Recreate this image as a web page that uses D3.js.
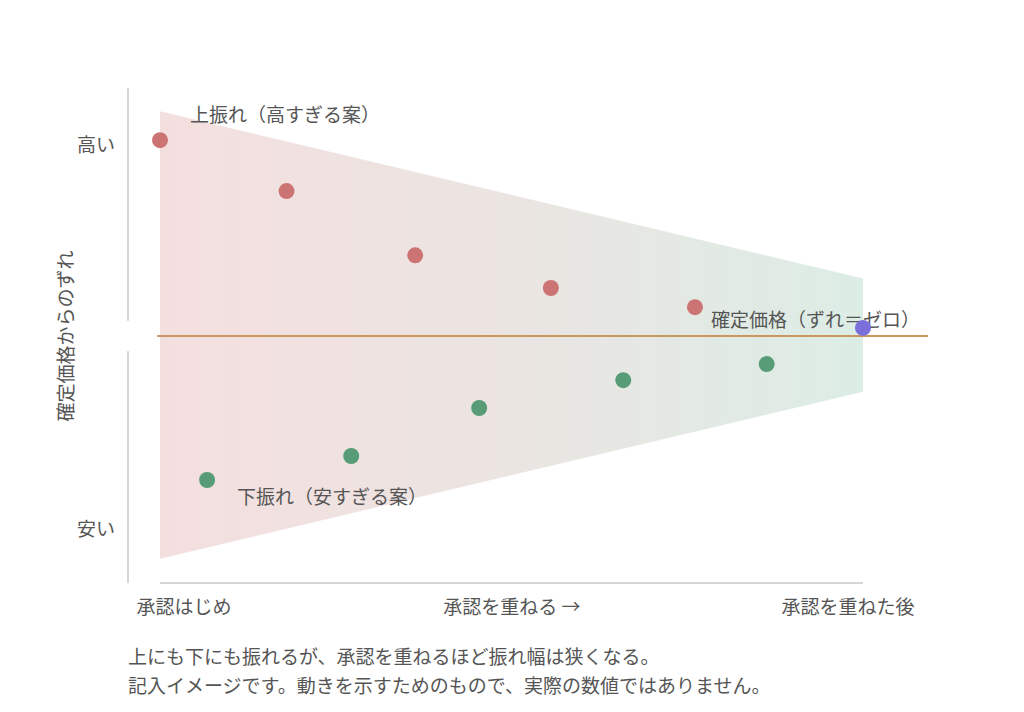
<!DOCTYPE html>
<meta charset="utf-8">
<style>
    body { margin: 0; background: #fff; }
    svg { font-family: "Noto Sans CJK JP", "Noto Sans", sans-serif; }
    .lbl { fill: #555; font-size: 19px; }
    .axis-line { stroke: #d6d6d6; stroke-width: 2px; }
</style>
<body>
<script src="https://cdn.jsdelivr.net/npm/d3@7"></script>
<script>

    var width = 1024,
        height = 712;

    // 承認の段階（0 = はじめ, 100 = 後）とずれ（+ 高い / - 安い）
    var highStages = [0, 18, 36.3, 55.6, 76.1],
        highValues = [102, 75.5, 42, 25, 15];
    var lowStages = [6.7, 27.2, 45.4, 65.9, 86.3],
        lowValues = [-75, -62.5, -37.5, -23, -14.6];
    var finalStage = [100],
        finalValue = [4.2];

    // 振れ幅の帯（左端と右端）
    var bandStages = [0, 100],
        bandTop = [117, 30],
        bandBottom = [-116, -29];

    var xTickLabels = ["承認はじめ", "承認を重ねる →", "承認を重ねた後"],
        yTickLabels = ["高い", "安い"],
        yTickValues = [100, -100];

    var x = d3.scaleLinear().domain([0, 100]).range([160, 863]);
    var y = d3.scaleLinear().domain([-100, 100]).range([528, 144]);

    var svg = d3.select("body").append("svg")
        .attr("width", width)
        .attr("height", height);

    var defs = svg.append("defs");
    var grad = defs.append("linearGradient")
        .attr("id", "bandGrad")
        .attr("x1", "0%").attr("x2", "100%")
        .attr("y1", "0%").attr("y2", "0%");
    grad.append("stop").attr("offset", "0%").attr("stop-color", "#f4dfdf");
    grad.append("stop").attr("offset", "50%").attr("stop-color", "#ebe5e2");
    grad.append("stop").attr("offset", "100%").attr("stop-color", "#dcede5");

    // 帯
    var bandPts = bandStages.map(function(s, i) { return [s, bandTop[i], bandBottom[i]]; });
    svg.append("path")
        .attr("d", d3.area()
            .x(function(d) { return x(d[0]); })
            .y0(function(d) { return y(d[2]); })
            .y1(function(d) { return y(d[1]); })(bandPts))
        .attr("fill", "url(#bandGrad)");

    // 軸線（縦はゼロ付近で途切れる）
    svg.append("line").attr("class", "axis-line")
        .attr("x1", 128).attr("x2", 128)
        .attr("y1", 88).attr("y2", y(8));
    svg.append("line").attr("class", "axis-line")
        .attr("x1", 128).attr("x2", 128)
        .attr("y1", y(-8)).attr("y2", 583);
    svg.append("line").attr("class", "axis-line")
        .attr("x1", x(0)).attr("x2", x(100))
        .attr("y1", 583).attr("y2", 583);

    // ゼロ線
    svg.append("line")
        .attr("x1", x(-0.4)).attr("x2", 928)
        .attr("y1", y(0)).attr("y2", y(0))
        .attr("stroke", "#c8965e")
        .attr("stroke-width", 2);

    // 点
    var dot = function(stages, values, color) {
        svg.append("g").selectAll("circle")
            .data(stages)
            .enter().append("circle")
            .attr("cx", function(d) { return x(d); })
            .attr("cy", function(d, i) { return y(values[i]); })
            .attr("r", 8)
            .attr("fill", color);
    };
    dot(highStages, highValues, "#cc7474");
    dot(lowStages, lowValues, "#579c77");

    svg.append("text").attr("class", "lbl")
        .attr("x", 190).attr("y", 115).attr("dy", "0.35em")
        .text("上振れ（高すぎる案）");
    svg.append("text").attr("class", "lbl")
        .attr("x", 237).attr("y", 497).attr("dy", "0.35em")
        .text("下振れ（安すぎる案）");
    svg.append("text").attr("class", "lbl")
        .attr("x", 711).attr("y", 320).attr("dy", "0.35em")
        .text("確定価格（ずれ＝ゼロ）");

    dot(finalStage, finalValue, "#7b6fdc");

    // 目盛りラベル
    svg.selectAll(".ylab")
        .data(yTickLabels)
        .enter().append("text")
        .attr("class", "lbl")
        .attr("x", 115)
        .attr("y", function(d, i) { return y(yTickValues[i]) + 1; })
        .attr("dy", "0.35em")
        .attr("text-anchor", "end")
        .text(function(d) { return d; });

    var xLabPos = [184, 512, 848];
    svg.selectAll(".xlab")
        .data(xTickLabels)
        .enter().append("text")
        .attr("class", "lbl")
        .attr("x", function(d, i) { return xLabPos[i]; })
        .attr("y", 607)
        .attr("dy", "0.35em")
        .attr("text-anchor", "middle")
        .text(function(d) { return d; });

    svg.append("text").attr("class", "lbl")
        .attr("transform", "translate(66," + y(0) + ")rotate(-90)")
        .attr("dy", "0.35em")
        .attr("text-anchor", "middle")
        .text("確定価格からのずれ");

    svg.append("text").attr("class", "lbl")
        .attr("x", 128).attr("y", 657).attr("dy", "0.35em")
        .text("上にも下にも振れるが、承認を重ねるほど振れ幅は狭くなる。");
    svg.append("text").attr("class", "lbl")
        .attr("x", 128).attr("y", 686).attr("dy", "0.35em")
        .text("記入イメージです。動きを示すためのもので、実際の数値ではありません。");

</script>
</body>
</html>
